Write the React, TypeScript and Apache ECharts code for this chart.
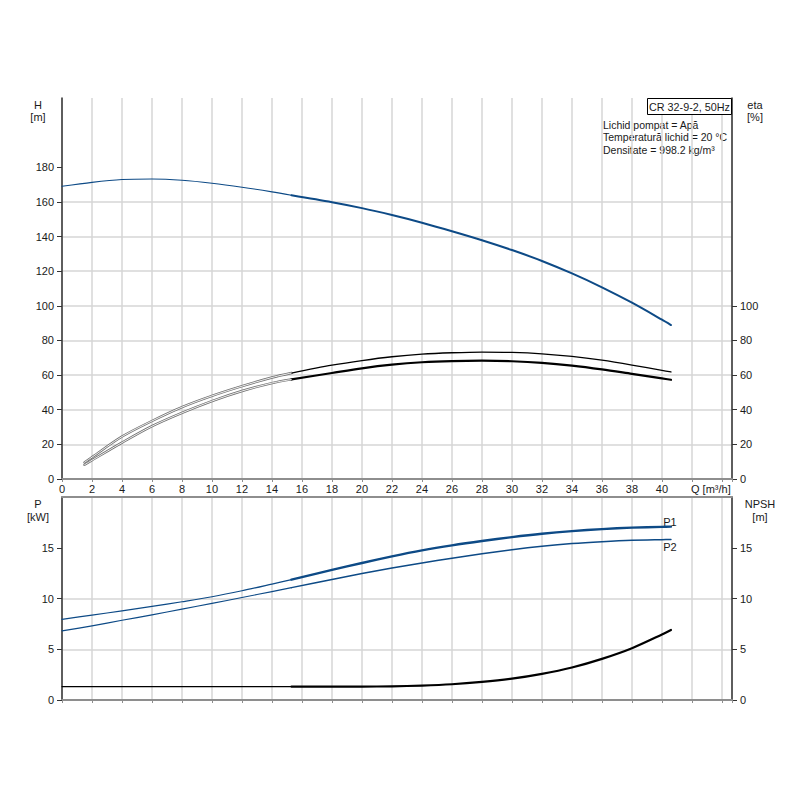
import React, { useEffect, useRef } from 'react';
import * as echarts from 'echarts';

// ---- data ----
const BREAK_Q = 15.3;

const xTickLabels = [0, 2, 4, 6, 8, 10, 12, 14, 16, 18, 20, 22, 24, 26, 28, 30, 32, 34, 36, 38, 40];
const hTickLabels = [0, 20, 40, 60, 80, 100, 120, 140, 160, 180];
const etaTickLabels = [0, 20, 40, 60, 80, 100];
const pTickLabels = [0, 5, 10, 15];
const npshTickLabels = [0, 5, 10, 15];

const qH = [0, 2, 4, 6, 8, 10, 12, 14, 15.3, 18, 20, 22, 24, 26, 28, 30, 32, 34, 36, 38, 40, 40.6];
const headH = [169, 171.3, 172.9, 173.2, 172.5, 170.8, 168.5, 165.8, 163.8, 159.8, 156.4, 152.4, 148.0, 143.1, 137.9, 132.2, 125.9, 118.7, 110.7, 101.8, 92.0, 88.9];

const qEta = [1.5, 2, 4, 6, 8, 10, 12, 14, 15.3, 18, 20, 22, 24, 26, 28, 30, 32, 34, 36, 38, 40, 40.6];
const etaUpper = [9.6, 12.6, 24.5, 33.5, 41.5, 48, 53.6, 58.6, 61.2, 65.7, 68.4, 70.6, 72.1, 72.9, 73.3, 73.1, 72.3, 70.8, 68.6, 65.8, 62.7, 61.8];
const etaLower = [8.2, 10.8, 21, 30.5, 38.2, 45, 50.8, 55.4, 57.5, 61.2, 63.9, 66.0, 67.4, 68.1, 68.3, 68.0, 67.1, 65.5, 63.3, 60.7, 58.1, 57.3];

const qP = [0, 2, 4, 6, 8, 10, 12, 14, 15.3, 18, 20, 22, 24, 26, 28, 30, 32, 34, 36, 38, 40, 40.6];
const powerP1 = [7.95, 8.36, 8.79, 9.22, 9.68, 10.17, 10.76, 11.42, 11.86, 12.82, 13.5, 14.15, 14.74, 15.24, 15.67, 16.05, 16.38, 16.64, 16.84, 16.98, 17.06, 17.08];
const powerP2 = [6.81, 7.3, 7.85, 8.39, 8.95, 9.52, 10.1, 10.68, 11.07, 11.88, 12.46, 13.0, 13.5, 13.97, 14.4, 14.8, 15.14, 15.41, 15.6, 15.74, 15.8, 15.81];

const qNpsh = [0, 15.3, 20, 22, 24, 26, 28, 30, 32, 34, 36, 38, 40, 40.6];
const npshVals = [1.32, 1.32, 1.32, 1.35, 1.42, 1.55, 1.78, 2.1, 2.57, 3.2, 4.05, 5.1, 6.45, 6.9];

const infoLines = ['Lichid pompat = Apă', 'Temperatură lichid = 20 °C', 'Densitate = 998.2 kg/m³'];
const titleText = 'CR 32-9-2, 50Hz';

// ---- helpers ----
function seg(q: number[], v: number[], lo: number, hi: number) {
  const out: number[][] = [];
  for (let i = 0; i < q.length; i++) {
    if (q[i] >= lo && q[i] <= hi) out.push([q[i], v[i]]);
  }
  return out;
}

const FONT = '"Liberation Sans", Arial, sans-serif';
const TXT = '#1a1a1a';
const BLUE = '#0d4a86';
const GRID_C = '#d6d6d6';
const AX_DARK = '#333';
const AX_GRAY = '#8e8e8e';

function line(name: string, data: number[][], color: string, width: number, xi: number, yi: number, z = 2) {
  return {
    name, type: 'line', xAxisIndex: xi, yAxisIndex: yi, data, smooth: 0.3,
    showSymbol: false, symbol: 'none', z,
    lineStyle: { color, width, cap: 'round', join: 'round' },
    emphasis: { disabled: true }, silent: true,
  };
}

function txt(text: string, x: number, y: number, align = 'center', size = 11) {
  return {
    type: 'text', x, y, silent: true,
    style: { text, fill: TXT, font: `${size}px ${FONT}`, textAlign: align, textVerticalAlign: 'middle' },
  };
}

export default function App() {
  const ref = useRef<HTMLDivElement>(null);
  useEffect(() => {
    if (!ref.current) return;
    const chart = echarts.init(ref.current, undefined, { renderer: 'svg' });

    const xBase = (gi: number, labels: boolean) => ({
      type: 'value', gridIndex: gi, min: 0, max: 44.67, interval: 2,
      axisLine: { show: true, onZero: false, lineStyle: { color: AX_GRAY, width: 2 } },
      axisTick: { show: true, length: 3, lineStyle: { color: AX_GRAY } },
      axisLabel: labels
        ? { show: true, customValues: xTickLabels, fontSize: 11, fontFamily: FONT, color: TXT, margin: 4 }
        : { show: false },
      splitLine: { show: true, lineStyle: { color: GRID_C, width: 1.5 } },
    });

    const yBase = (gi: number, pos: string, max: number, interval: number, ticks: number[], split: boolean) => ({
      type: 'value', gridIndex: gi, position: pos, min: 0, max, interval,
      axisLine: { show: true, onZero: false, lineStyle: { color: AX_DARK, width: 1.5 } },
      axisTick: { show: true, length: 5, customValues: ticks, lineStyle: { color: AX_DARK } },
      axisLabel: { show: true, customValues: ticks, fontSize: 11, fontFamily: FONT, color: TXT, margin: 8 },
      splitLine: { show: split, showMaxLine: false, showMinLine: false, lineStyle: { color: GRID_C, width: 1.5 } },
    });

    const option: any = {
      animation: false,
      backgroundColor: '#fff',
      grid: [
        { left: 62, top: 98, width: 670, height: 381 },
        { left: 62, top: 497, width: 670, height: 203 },
      ],
      xAxis: [
        xBase(0, true),
        xBase(1, false),
        {
          type: 'value', gridIndex: 1, position: 'top', min: 0, max: 44.67, interval: 2,
          axisLine: { show: true, onZero: false, lineStyle: { color: AX_GRAY, width: 2 } },
          axisTick: { show: false }, axisLabel: { show: false }, splitLine: { show: false },
        },
      ],
      yAxis: [
        yBase(0, 'left', 220, 20, hTickLabels, true),
        yBase(0, 'right', 220, 20, etaTickLabels, false),
        yBase(1, 'left', 20, 5, pTickLabels, true),
        yBase(1, 'right', 20, 5, npshTickLabels, false),
      ],
      series: [
        // H
        line('H-a', seg(qH, headH, 0, BREAK_Q), BLUE, 1.1, 0, 0),
        line('H-b', seg(qH, headH, BREAK_Q, 99), BLUE, 2, 0, 0),
        // eta upper
        line('etaU-a-o', seg(qEta, etaUpper, 0, BREAK_Q), '#707070', 2.4, 0, 1),
        line('etaU-a-i', seg(qEta, etaUpper, 0, BREAK_Q), '#ffffff', 0.9, 0, 1, 3),
        line('etaU-b', seg(qEta, etaUpper, BREAK_Q, 99), '#000', 1.3, 0, 1),
        // eta lower
        line('etaL-a-o', seg(qEta, etaLower, 0, BREAK_Q), '#707070', 2.4, 0, 1),
        line('etaL-a-i', seg(qEta, etaLower, 0, BREAK_Q), '#ffffff', 0.9, 0, 1, 3),
        line('etaL-b', seg(qEta, etaLower, BREAK_Q, 99), '#000', 2.2, 0, 1),
        // P1, P2
        line('P1-a', seg(qP, powerP1, 0, BREAK_Q), BLUE, 1.2, 1, 2),
        line('P1-b', seg(qP, powerP1, BREAK_Q, 99), BLUE, 2.4, 1, 2),
        line('P2-a', seg(qP, powerP2, 0, BREAK_Q), BLUE, 1.1, 1, 2),
        line('P2-b', seg(qP, powerP2, BREAK_Q, 99), BLUE, 1.5, 1, 2),
        // NPSH
        line('NPSH-a', seg(qNpsh, npshVals, 0, BREAK_Q), '#000', 1.2, 1, 3),
        line('NPSH-b', seg(qNpsh, npshVals, BREAK_Q, 99), '#000', 2.2, 1, 3),
      ],
      graphic: [
        txt('H', 38, 105), txt('[m]', 38, 117),
        txt('eta', 755, 105), txt('[%]', 755, 117),
        txt('P', 38, 504), txt('[kW]', 38, 517),
        txt('NPSH', 760, 504), txt('[m]', 760, 517),
        txt('Q [m³/h]', 691, 489, 'left'),
        txt('P1', 670, 522), txt('P2', 670, 547),
        {
          type: 'rect', silent: true, z: 10,
          shape: { x: 647.5, y: 98.5, width: 84, height: 16 },
          style: { fill: '#fff', stroke: '#000', lineWidth: 1 },
        },
        { ...txt(titleText, 689.5, 106.5, 'center', 10.8), z: 11 },
        txt(infoLines[0], 603, 124.5, 'left', 10.5),
        txt(infoLines[1], 603, 137, 'left', 10.5),
        txt(infoLines[2], 603, 149.5, 'left', 10.5),
      ],
    };
    chart.setOption(option);
    return () => chart.dispose();
  }, []);
  return (
    <div
      ref={ref}
      style={{ position: 'fixed', left: 0, top: 0, width: 800, height: 800, background: '#fff' }}
    />
  );
}
